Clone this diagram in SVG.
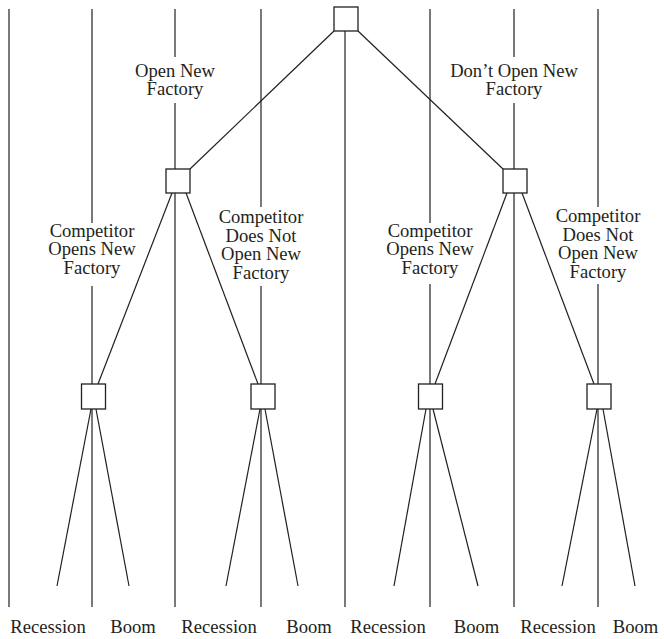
<svg xmlns="http://www.w3.org/2000/svg" width="664" height="639" viewBox="0 0 664 639">
  <style>
    .col { stroke: #231f20; stroke-width: 1.2; fill: none; }
    .edge { stroke: #231f20; stroke-width: 1.2; fill: none; }
    .box { stroke: #231f20; stroke-width: 1.3; fill: #ffffff; }
    .lbl { font-family: 'Liberation Serif', 'Times New Roman', Times, serif; font-size: 18.6px; fill: #231f20; text-anchor: middle; }
  </style>
  <rect width="664" height="639" fill="#ffffff"/>

  <!-- column rules, broken where labels sit -->
  <g id="columns" class="col">
    <line x1="9" y1="9" x2="9" y2="607"/>
    <line x1="92" y1="9" x2="92" y2="223"/>
    <line x1="92" y1="286" x2="92" y2="607"/>
    <line x1="175" y1="9" x2="175" y2="57"/>
    <line x1="175" y1="103" x2="175" y2="607"/>
    <line x1="261" y1="9" x2="261" y2="207"/>
    <line x1="261" y1="286" x2="261" y2="607"/>
    <line x1="345" y1="31" x2="345" y2="607"/>
    <line x1="430" y1="9" x2="430" y2="223"/>
    <line x1="430" y1="284" x2="430" y2="607"/>
    <line x1="514" y1="9" x2="514" y2="57"/>
    <line x1="514" y1="103" x2="514" y2="607"/>
    <line x1="598" y1="9" x2="598" y2="207"/>
    <line x1="598" y1="284" x2="598" y2="607"/>
  </g>

  <!-- tree branches -->
  <g id="connectors" class="edge">
    <line x1="334" y1="31" x2="190" y2="169"/>
    <line x1="358" y1="31" x2="503" y2="169"/>
    <line x1="172" y1="193" x2="98" y2="384"/>
    <line x1="186" y1="193" x2="258" y2="384"/>
    <line x1="507" y1="193" x2="435" y2="384"/>
    <line x1="522" y1="193" x2="594" y2="384"/>
    <line x1="91" y1="409" x2="57" y2="586"/>
    <line x1="96" y1="409" x2="129" y2="586"/>
    <line x1="260" y1="409" x2="226" y2="586"/>
    <line x1="265" y1="409" x2="298" y2="586"/>
    <line x1="426" y1="409" x2="394" y2="586"/>
    <line x1="433" y1="409" x2="478" y2="586"/>
    <line x1="597" y1="409" x2="562" y2="586"/>
    <line x1="603" y1="409" x2="635" y2="586"/>
  </g>

  <!-- decision / event nodes -->
  <g id="root"><rect class="box" x="334" y="7" width="24" height="24"/></g>
  <g id="open"><rect class="box" x="166" y="169" width="24" height="24"/></g>
  <g id="dont-open"><rect class="box" x="503" y="169" width="24" height="24"/></g>
  <g id="open-comp-opens"><rect class="box" x="81.5" y="384" width="24" height="25"/></g>
  <g id="open-comp-not"><rect class="box" x="251" y="384" width="24" height="25"/></g>
  <g id="dont-comp-opens"><rect class="box" x="418.5" y="384" width="24" height="25"/></g>
  <g id="dont-comp-not"><rect class="box" x="587" y="384" width="24" height="25"/></g>

  <!-- branch labels -->
  <g id="labels" class="lbl" font-family="Liberation Serif, serif">
    <text x="175" y="77">Open New</text>
    <text x="175" y="95">Factory</text>
    <text x="514" y="77">Don’t Open New</text>
    <text x="514" y="95">Factory</text>

    <text x="92" y="237">Competitor</text>
    <text x="92" y="255">Opens New</text>
    <text x="92" y="273.5">Factory</text>
    <text x="261" y="223">Competitor</text>
    <text x="261" y="241.5">Does Not</text>
    <text x="261" y="260">Open New</text>
    <text x="261" y="278.5">Factory</text>

    <text x="430" y="237">Competitor</text>
    <text x="430" y="255">Opens New</text>
    <text x="430" y="273.5">Factory</text>
    <text x="598" y="222">Competitor</text>
    <text x="598" y="240.5">Does Not</text>
    <text x="598" y="259">Open New</text>
    <text x="598" y="277.5">Factory</text>
  </g>

  <g id="outcomes" class="lbl" font-family="Liberation Serif, serif">
    <text x="48" y="633">Recession</text>
    <text x="133" y="633">Boom</text>
    <text x="219" y="633">Recession</text>
    <text x="309" y="633">Boom</text>
    <text x="388" y="633">Recession</text>
    <text x="476.5" y="633">Boom</text>
    <text x="558" y="633">Recession</text>
    <text x="635.5" y="633">Boom</text>
  </g>
</svg>
